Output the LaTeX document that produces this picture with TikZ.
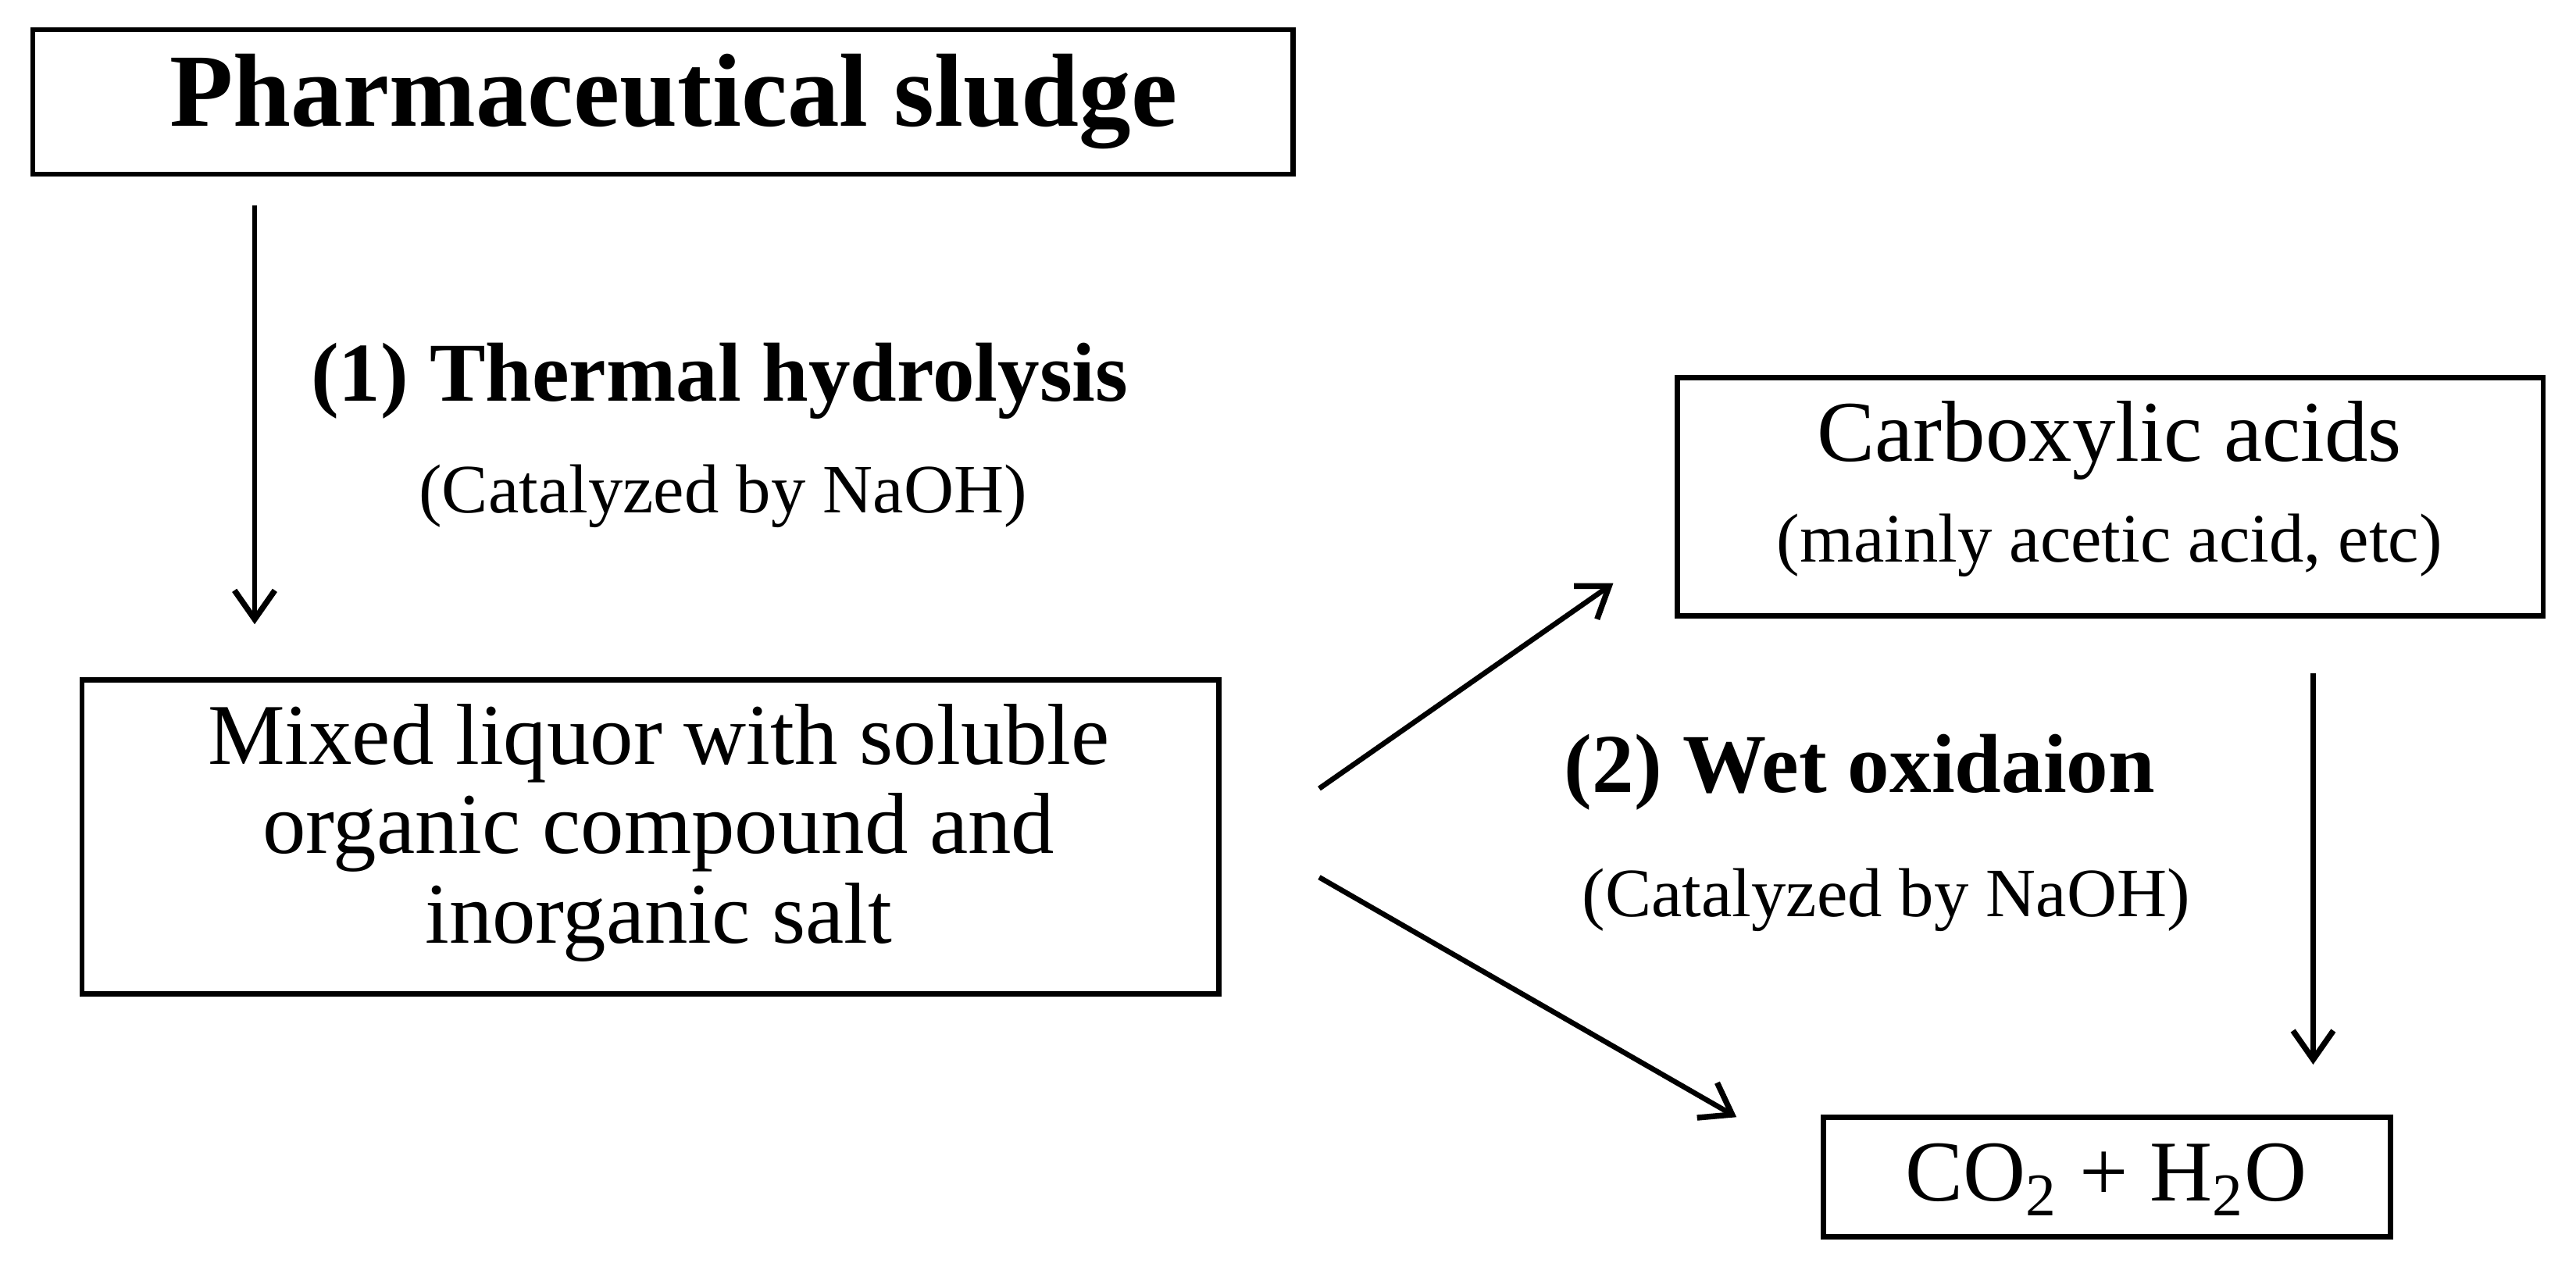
\documentclass[tikz,border=0pt]{standalone}
\usepackage{fontspec}
\setmainfont{Liberation Serif}
\usetikzlibrary{arrows.meta}
\begin{document}
\begin{tikzpicture}[x=0.02cm,y=-0.02cm,
 box/.style={draw,line width=1.8pt},
 arr/.style={-{Straight Barb[length=10pt,width=14pt,line width=2pt]},line width=1.8pt},
 body/.style={font=\fontsize{30}{31}\selectfont,align=center},
 cat/.style={font=\fontsize{24}{28}\selectfont},
 steplbl/.style={font=\fontsize{29}{34}\selectfont\bfseries}]
\useasboundingbox (0,0) rectangle (1568,773);
\draw[box] (20,18) rectangle (787,106);
\node[font=\fontsize{36}{40}\selectfont\bfseries] (t) at (410,62) {Pharmaceutical sludge};
\draw[box] (50,414) rectangle (742,605);
\node[body] (m) at (401,507) {Mixed liquor with soluble\\ organic compound and\\ inorganic salt};
\draw[box] (1021,230) rectangle (1548,375);
\node[body] (c) at (1284,268) {Carboxylic acids};
\node[cat] (c2) at (1284,332) {(mainly acetic acid, etc)};
\draw[box] (1110,680) rectangle (1455,753);
\node[body] (w) at (1282,718) {CO\textsubscript{2} + H\textsubscript{2}O};
\node[steplbl] (s1) at (438,232) {(1) Thermal hydrolysis};
\node[cat] (n1) at (440,302) {(Catalyzed by NaOH)};
\node[steplbl] (s2) at (1132,470) {(2) Wet oxidaion};
\node[cat] (n2) at (1148,548) {(Catalyzed by NaOH)};
\coordinate (a1) at (155,125); \coordinate (b1) at (155,380);
\coordinate (a2) at (803,480); \coordinate (b2) at (982,355);
\coordinate (a3) at (803,534); \coordinate (b3) at (1057,680);
\coordinate (a4) at (1408,410); \coordinate (b4) at (1408,648);
\draw[arr] (a1) -- (b1);
\draw[arr] (a2) -- (b2);
\draw[arr] (a3) -- (b3);
\draw[arr] (a4) -- (b4);
\end{tikzpicture}
\end{document}
